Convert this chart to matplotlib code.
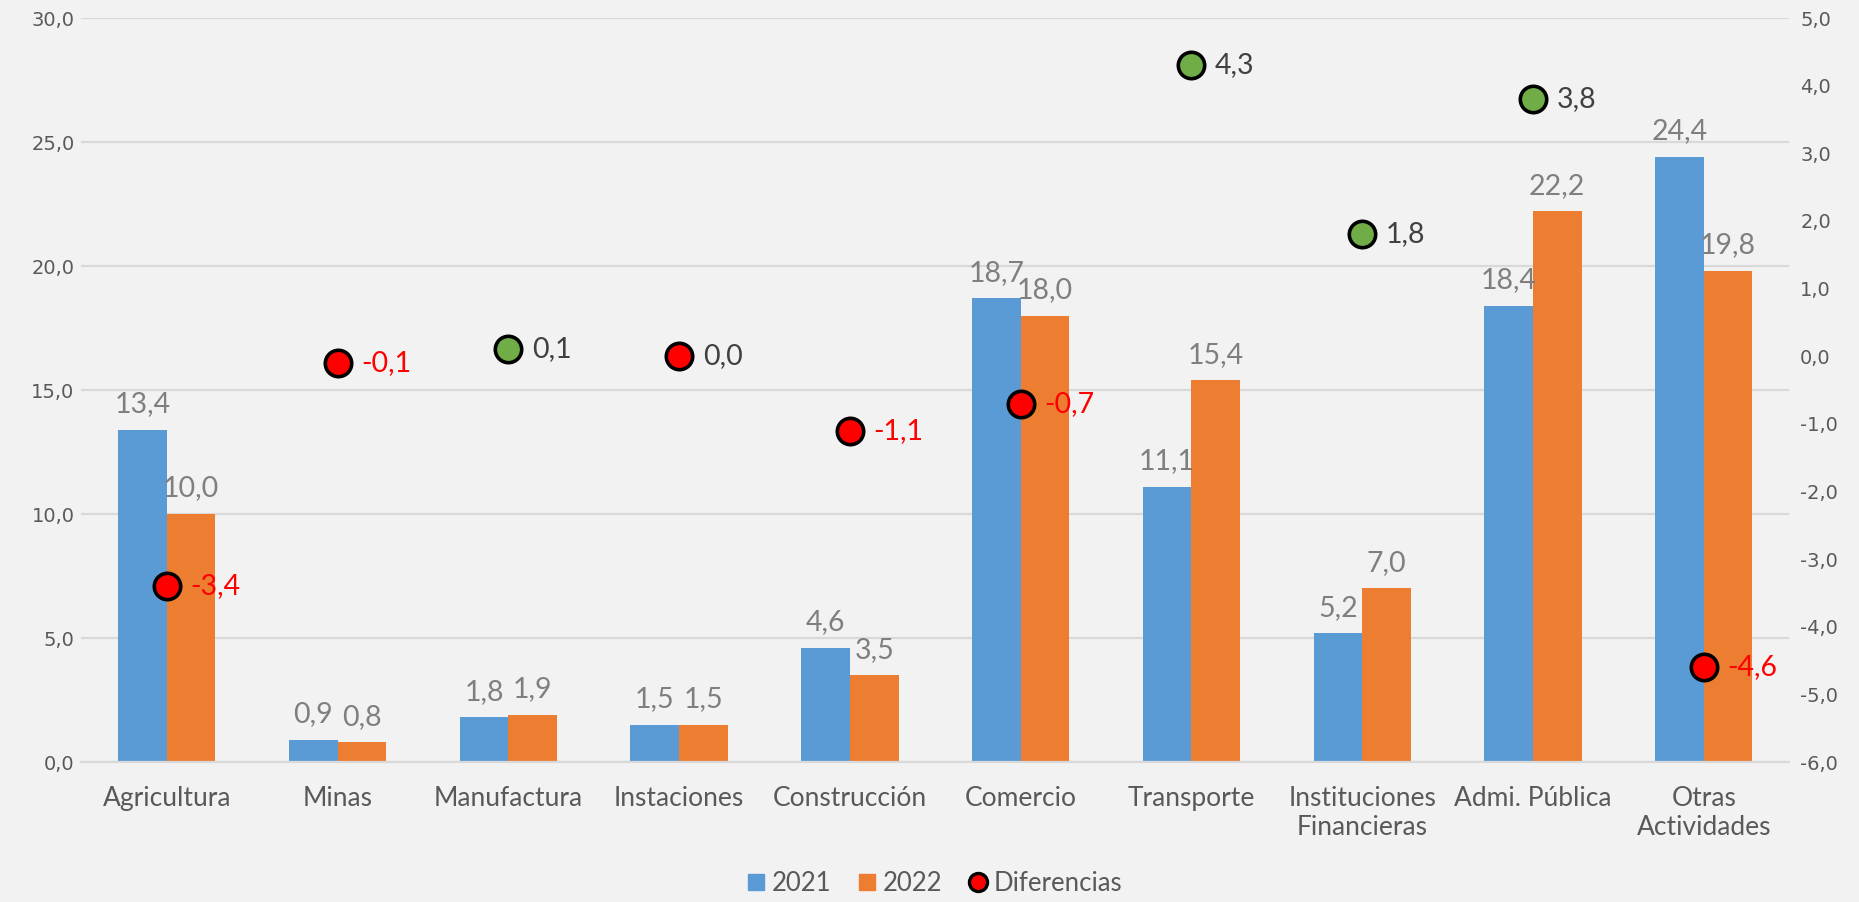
import matplotlib.pyplot as plt
import numpy as np
from matplotlib.lines import Line2D
from matplotlib.patches import Patch

plt.rcParams["font.family"] = ["Lato", "DejaVu Sans"]

sectores = ["Agricultura", "Minas", "Manufactura", "Instaciones", "Construcción",
            "Comercio", "Transporte", "Instituciones\nFinancieras", "Admi. Pública",
            "Otras\nActividades"]
v2021 = [13.4, 0.9, 1.8, 1.5, 4.6, 18.7, 11.1, 5.2, 18.4, 24.4]
v2022 = [10.0, 0.8, 1.9, 1.5, 3.5, 18.0, 15.4, 7.0, 22.2, 19.8]
diferencias = [-3.4, -0.1, 0.1, 0.0, -1.1, -0.7, 4.3, 1.8, 3.8, -4.6]

c_2021 = "#5B9BD5"
c_2022 = "#ED7D31"
c_pos = "#70AD47"
c_neg = "#FF0000"
bg = "#F2F2F2"
gris = "#595959"


def coma(v):
    return f"{v:.1f}".replace(".", ",")


fig = plt.figure(figsize=(18.59, 9.02), dpi=100, facecolor=bg)
ax = fig.add_axes([0.0438, 0.1552, 0.9186, 0.8248])
ax.set_facecolor(bg)
ax2 = ax.twinx()

x = np.arange(len(sectores))
w = 0.285

b1 = ax.bar(x - w / 2, v2021, w, color=c_2021, zorder=2)
b2 = ax.bar(x + w / 2, v2022, w, color=c_2022, zorder=2)

for bars, vals in ((b1, v2021), (b2, v2022)):
    for b, v in zip(bars, vals):
        ax.annotate(coma(v), (b.get_x() + b.get_width() / 2, v),
                    xytext=(0, 9), textcoords="offset points",
                    ha="center", va="bottom", fontsize=20.5, color="#7F7F7F")

ax.set_xlim(-0.5, len(sectores) - 0.5)
ax.set_ylim(0, 30)
ax.set_yticks(np.arange(0, 31, 5))
ax.set_yticklabels([coma(t) for t in np.arange(0, 31, 5)],
                   fontfamily="DejaVu Sans", fontsize=14, color=gris)
ax.set_xticks(x)
ax.set_xticklabels(sectores, fontsize=19, color=gris)
ax.yaxis.grid(True, color="#D9D9D9", linewidth=1.6, zorder=0)
ax.set_axisbelow(True)
ax.tick_params(axis="both", length=0)
ax.tick_params(axis="x", pad=17)
ax.tick_params(axis="y", pad=5)
for s in ax.spines.values():
    s.set_visible(False)
ax.spines["bottom"].set_visible(True)
ax.spines["bottom"].set_color("#D9D9D9")
ax.spines["bottom"].set_linewidth(1.6)

# diferencias en el eje secundario
ax2.set_ylim(-6, 5)
ax2.set_yticks(np.arange(-6, 6, 1))
ax2.set_yticklabels([coma(t) for t in np.arange(-6, 6, 1)],
                    fontfamily="DejaVu Sans", fontsize=14, color=gris)
ax2.tick_params(axis="y", length=0, pad=8)
for s in ax2.spines.values():
    s.set_visible(False)

for xi, d in zip(x, diferencias):
    ax2.plot(xi, d, "o", markersize=19, markerfacecolor=c_pos if d > 0 else c_neg,
             markeredgecolor="black", markeredgewidth=2.6, zorder=4)
    ax2.annotate(coma(d), (xi, d), xytext=(17, 0), textcoords="offset points",
                 ha="left", va="center", fontsize=20.5,
                 color=c_neg if d < 0 else "#404040")

handles = [Patch(color=c_2021), Patch(color=c_2022),
           Line2D([], [], marker="o", linestyle="", markersize=13,
                  markerfacecolor=c_neg, markeredgecolor="black", markeredgewidth=2.4)]
fig.legend(handles, ["2021", "2022", "Diferencias"], loc="lower center",
           bbox_to_anchor=(0.503, -0.019), ncol=3, frameon=False, fontsize=18.5,
           labelcolor=gris, handlelength=0.6, handleheight=0.6, handletextpad=0.3,
           columnspacing=1.1)

fig.savefig("out.png", dpi=100, facecolor=bg)
